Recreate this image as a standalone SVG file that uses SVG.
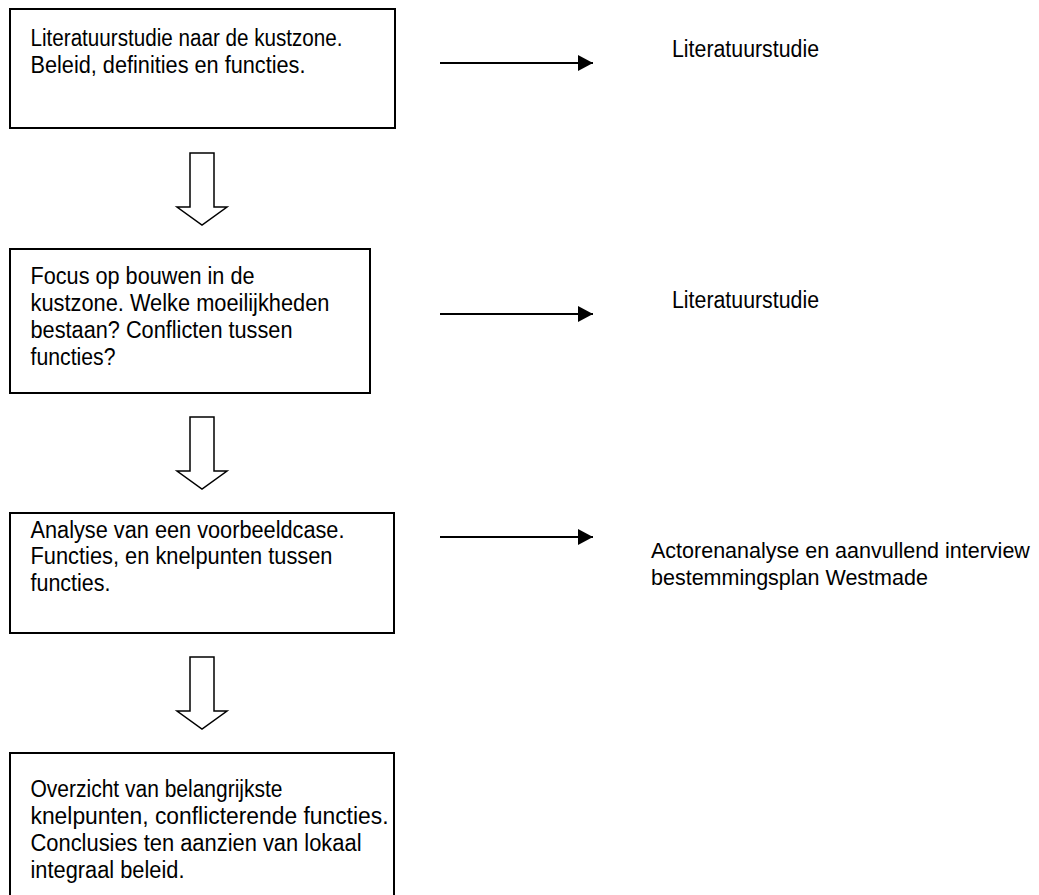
<svg xmlns="http://www.w3.org/2000/svg" width="1039" height="895" viewBox="0 0 1039 895">
<defs>
<style>
.box{fill:#fff;stroke:#000;stroke-width:2}
.t{font-family:"Liberation Sans",Arial,sans-serif;font-size:23px;fill:#000}
.s{font-size:21.5px}
.blk{fill:#fff;stroke:#000;stroke-width:1.5;stroke-linejoin:miter}
.ln{stroke:#000;stroke-width:2;fill:none}
</style>
<marker id="ah" markerUnits="userSpaceOnUse" markerWidth="16" markerHeight="16" refX="15" refY="8" orient="auto">
<path d="M0,0 L15,8 L0,16 Z" fill="#000"/>
</marker>
</defs>
<rect width="1039" height="895" fill="#fff"/>
<g id="n1">
<rect class="box" x="10" y="9" width="385" height="119"/>
<text class="t" x="30.5" y="45.5" textLength="312" lengthAdjust="spacingAndGlyphs">Literatuurstudie naar de kustzone.</text>
<text class="t" x="30.5" y="72.5" textLength="275" lengthAdjust="spacingAndGlyphs">Beleid, definities en functies.</text>
</g>
<g id="n2">
<rect class="box" x="10" y="249" width="360" height="144"/>
<text class="t" x="30.5" y="284" textLength="224" lengthAdjust="spacingAndGlyphs">Focus op bouwen in de</text>
<text class="t" x="30.5" y="311" textLength="299" lengthAdjust="spacingAndGlyphs">kustzone. Welke moeilijkheden</text>
<text class="t" x="30.5" y="338" textLength="262" lengthAdjust="spacingAndGlyphs">bestaan? Conflicten tussen</text>
<text class="t" x="30.5" y="365" textLength="85" lengthAdjust="spacingAndGlyphs">functies?</text>
</g>
<g id="n3">
<rect class="box" x="10" y="513" width="384" height="120"/>
<text class="t" x="30.5" y="537.5" textLength="314" lengthAdjust="spacingAndGlyphs">Analyse van een voorbeeldcase.</text>
<text class="t" x="30.5" y="564" textLength="302" lengthAdjust="spacingAndGlyphs">Functies, en knelpunten tussen</text>
<text class="t" x="30.5" y="591" textLength="80" lengthAdjust="spacingAndGlyphs">functies.</text>
</g>
<g id="n4">
<rect class="box" x="10" y="753" width="384" height="160"/>
<text class="t" x="30.5" y="797" textLength="252" lengthAdjust="spacingAndGlyphs">Overzicht van belangrijkste</text>
<text class="t" x="30.5" y="824" textLength="358" lengthAdjust="spacingAndGlyphs">knelpunten, conflicterende functies.</text>
<text class="t" x="30.5" y="851" textLength="331" lengthAdjust="spacingAndGlyphs">Conclusies ten aanzien van lokaal</text>
<text class="t" x="30.5" y="878" textLength="154" lengthAdjust="spacingAndGlyphs">integraal beleid.</text>
</g>
<g id="l1"><text class="t" x="672" y="57" textLength="147" lengthAdjust="spacingAndGlyphs">Literatuurstudie</text></g>
<g id="l2"><text class="t" x="672" y="308" textLength="147" lengthAdjust="spacingAndGlyphs">Literatuurstudie</text></g>
<g id="l3">
<text class="t s" x="651" y="558">Actorenanalyse en aanvullend interview</text>
<text class="t s" x="651" y="585">bestemmingsplan Westmade</text>
</g>
<g id="connectors">
<path class="blk" d="M190,153 H214 V207 H227 L202,225 L177,207 H190 Z"/>
<path class="blk" d="M190,417 H214 V471 H227 L202,489 L177,471 H190 Z"/>
<path class="blk" d="M190,657 H214 V711 H227 L202,729 L177,711 H190 Z"/>
<line class="ln" x1="440" y1="63" x2="593" y2="63" marker-end="url(#ah)"/>
<line class="ln" x1="440" y1="314" x2="593" y2="314" marker-end="url(#ah)"/>
<line class="ln" x1="440" y1="537" x2="593" y2="537" marker-end="url(#ah)"/>
</g>
</svg>
